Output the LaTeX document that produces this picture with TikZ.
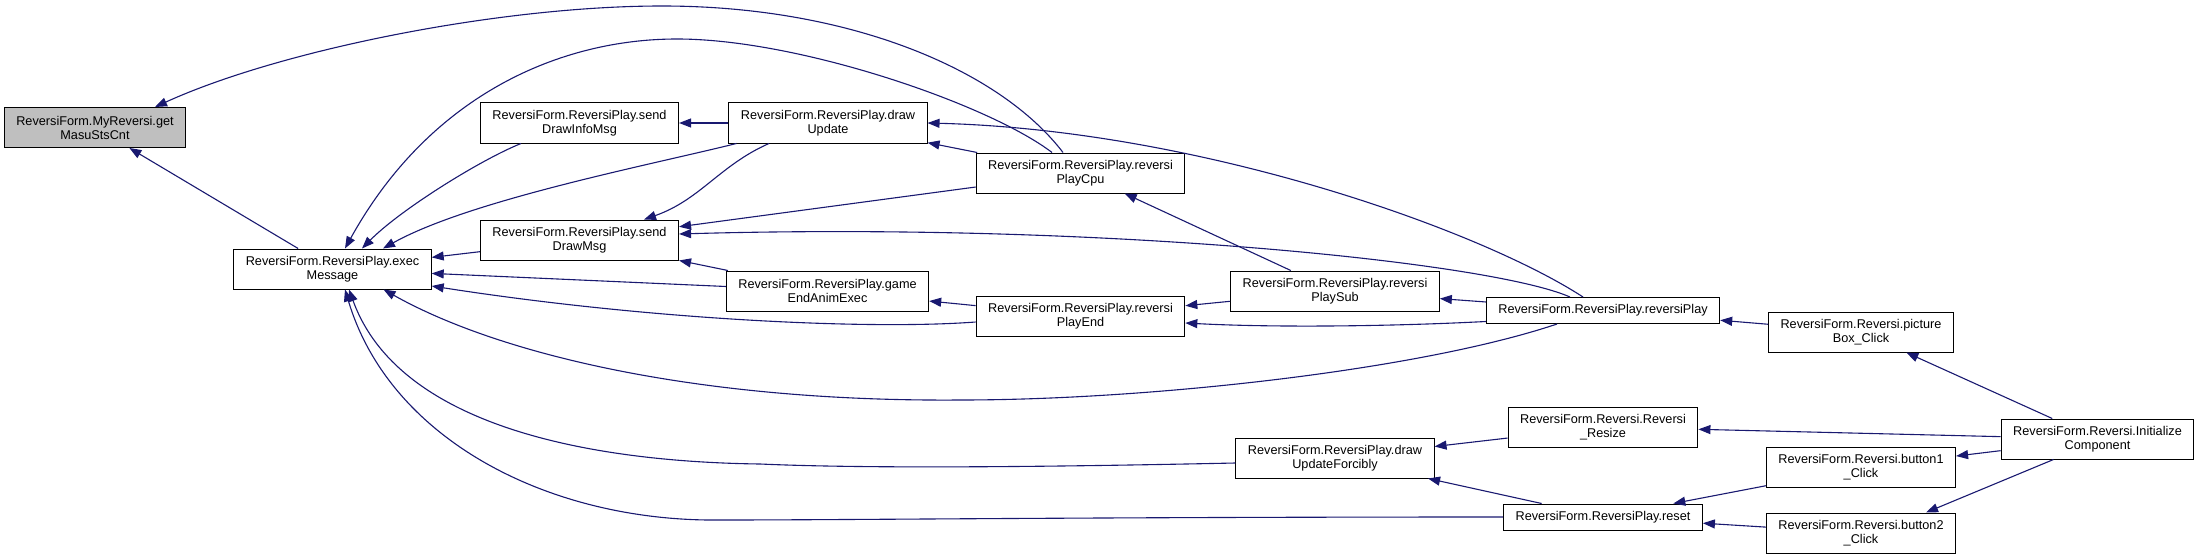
\documentclass[tikz,border=0pt]{standalone}
\usepackage{fontspec}
\setmainfont{Liberation Sans}
\usetikzlibrary{arrows.meta}
\definecolor{callblue}{RGB}{25,25,112}

\begin{document}
\begin{tikzpicture}[x=1pt,y=-1pt,
    fn/.style={draw=black, line width=1pt, fill=white, align=center,
      inner xsep=12pt, inner ysep=0pt, minimum height=40pt,
      font=\fontsize{12.7}{14}\selectfont},
    fnone/.style={fn, minimum height=26pt},
    root/.style={fn, fill=black!25},
    call/.style={draw=callblue, line width=1.1pt, -{Triangle[length=12pt,width=9pt]}}]
            \useasboundingbox (0,0) rectangle (2199,559);
            % functions
            \node[root] (getmasu) at (95,127.5) {ReversiForm.MyReversi.get\\MasuStsCnt};
            \node[fn] (exec) at (332.5,269) {ReversiForm.ReversiPlay.exec\\Message};
            \node[fn] (info) at (579.5,123) {ReversiForm.ReversiPlay.send\\DrawInfoMsg};
            \node[fn] (drawupd) at (828,123) {ReversiForm.ReversiPlay.draw\\Update};
            \node[fn] (senddraw) at (579.5,240) {ReversiForm.ReversiPlay.send\\DrawMsg};
            \node[fn] (gameend) at (827.5,291) {ReversiForm.ReversiPlay.game\\EndAnimExec};
            \node[fn] (cpu) at (1080.5,173) {ReversiForm.ReversiPlay.reversi\\PlayCpu};
            \node[fn] (playend) at (1080.5,316) {ReversiForm.ReversiPlay.reversi\\PlayEnd};
            \node[fn] (playsub) at (1335,291) {ReversiForm.ReversiPlay.reversi\\PlaySub};
            \node[fnone] (play) at (1603,310.5) {ReversiForm.ReversiPlay.reversiPlay};
            \node[fn] (picbox) at (1861,332) {ReversiForm.Reversi.picture\\Box\_Click};
            \node[fn] (dupforce) at (1335,458) {ReversiForm.ReversiPlay.draw\\UpdateForcibly};
            \node[fn] (resize) at (1603,427) {ReversiForm.Reversi.Reversi\\\_Resize};
            \node[fnone] (reset) at (1603,517) {ReversiForm.ReversiPlay.reset};
            \node[fn] (btn1) at (1861,467.5) {ReversiForm.Reversi.button1\\\_Click};
            \node[fn] (btn2) at (1861,533) {ReversiForm.Reversi.button2\\\_Click};
            \node[fn] (init) at (2097.5,439) {ReversiForm.Reversi.Initialize\\Component};
            % calls into getMasuStsCnt and execMessage
            \draw[call] (exec) -- (getmasu);
            \draw[call] ([xshift=-17.5pt]cpu.north) .. controls (1000,70) and (850,6) .. (662,6)
                .. controls (500,6) and (280,50) .. ([xshift=60pt]getmasu.north);
            \draw[call] ([xshift=-28.5pt]cpu.north) .. controls (990,105) and (800,39) .. (677,39)
                .. controls (560,39) and (430,95) .. ([xshift=12.5pt]exec.north);
            \draw[call] ([xshift=-58.5pt]info.south) .. controls (480,160) and (400,210) .. ([xshift=29.5pt]exec.north);
            \draw[call] ([xshift=8pt]drawupd.south west) .. controls (650,165) and (470,200) .. ([xshift=50.5pt]exec.north);
            \draw[call] (senddraw) -- (exec);
            \draw[call] (gameend) -- (exec);
            \draw[call] ([yshift=-6pt]playend.west) .. controls (870,330) and (650,320) .. ([yshift=-17pt]exec.east);
            \draw[call] ([xshift=-46pt]play.south) .. controls (1420,370) and (1150,400) .. (960,400)
                .. controls (700,402) and (500,355) .. ([xshift=51pt]exec.south);
            \draw[call] ([yshift=-5pt]dupforce.west) .. controls (1000,468) and (850,468) .. (760,464)
                .. controls (600,462) and (400,430) .. ([xshift=16.5pt]exec.south);
            \draw[call] (reset.west) .. controls (1100,517) and (850,520) .. (720,520)
                .. controls (550,522) and (390,440) .. ([xshift=12.5pt]exec.south);
            % middle columns
            \draw[call] (drawupd) -- (info);
            \draw[call] (cpu) -- (drawupd);
            \draw[call] ([xshift=-20pt]play.north) .. controls (1480,230) and (1200,130) .. (drawupd.east);
            \draw[call] ([xshift=-59pt]drawupd.south) .. controls (720,165) and (700,200) .. ([xshift=64.5pt]senddraw.north);
            \draw[call] (cpu) -- (senddraw);
            \draw[call] ([xshift=-33pt]play.north) .. controls (1490,262) and (1100,222) .. ([yshift=6pt]senddraw.east);
            \draw[call] (gameend) -- (senddraw);
            \draw[call] (playend) -- (gameend);
            \draw[call] (playsub) -- (cpu);
            \draw[call] (playsub) -- (playend);
            \draw[call] ([yshift=-11pt]play.west) .. controls (1400,326) and (1280,328) .. ([yshift=-7pt]playend.east);
            \draw[call] (play) -- (playsub);
            % form handlers
            \draw[call] (picbox) -- (play);
            \draw[call] (init) -- (picbox);
            \draw[call] (resize) -- (dupforce);
            \draw[call] (init) -- (resize);
            \draw[call] (reset) -- (dupforce);
            \draw[call] (btn1) -- (reset);
            \draw[call] (btn2) -- (reset);
            \draw[call] (init) -- (btn1);
            \draw[call] ([xshift=-44pt]init.south) -- ([xshift=65pt]btn2.north);
        \end{tikzpicture}
\end{document}
